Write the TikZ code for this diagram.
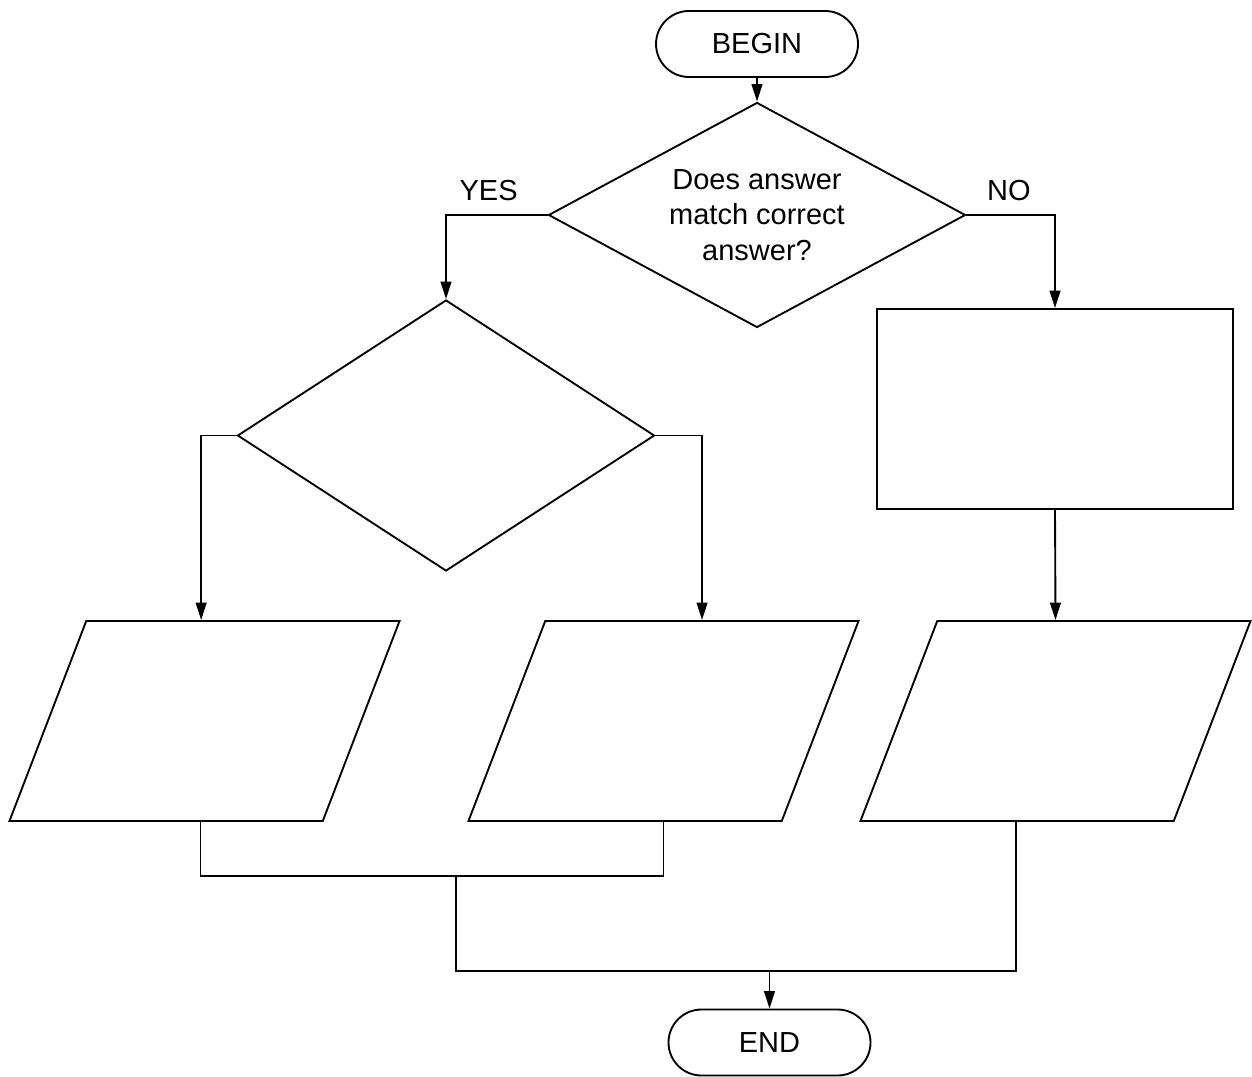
\documentclass[tikz,border=0pt]{standalone}
\usepackage{fontspec}
\setmainfont{Liberation Sans}
\usepackage{tikz}
\usetikzlibrary{shapes.geometric,shapes.misc,arrows.meta}

\tikzset{
  flowline/.style={line width=1.4pt},
  flowarrow/.style={flowline, -{Triangle[length=13pt,width=8pt]}},
  terminal/.style={draw, flowline, rounded rectangle, minimum width=153pt, minimum height=49.5pt, inner sep=0.75pt},
  decision/.style={draw, flowline, diamond, aspect=1.85, inner sep=0pt, minimum width=312.75pt},
  process/.style={draw, flowline, rectangle, minimum width=267pt, minimum height=150pt},
  inout/.style={draw, flowline, trapezium, trapezium left angle=69, trapezium right angle=111, inner xsep=88.7pt, inner ysep=75pt},
  branchlabel/.style={inner sep=0.75pt}
}

\begin{document}
\begin{tikzpicture}[x=0.75pt,y=0.75pt,yscale=-1,xscale=1,font=\fontsize{21.75}{26.6}\selectfont]
\useasboundingbox (0,0) rectangle (1252,1077);

%Shape: Terminals
\node (begin) [terminal] at (757,44) {BEGIN};
\node (end) [terminal] at (769.5,1042.5) {END};
%Shape: Diamonds
\node (q1) [decision, minimum height=168.75pt, align=center] at (757,215) {Does answer\\match correct\\answer?};
\node (q2) [decision, minimum height=203.25pt] at (446,435.5) {};
%Shape: Rectangle
\node (act) [process] at (1055,409) {};
%Shape: Parallelograms
\node (p1) [inout] at (204.5,721) {};
\node (p2) [inout] at (663.5,721) {};
\node (p3) [inout] at (1055.5,721) {};
%Joins
\coordinate (j1) at (456,876);
\coordinate (j2) at (769.5,971);

%Straight Lines
\draw [flowarrow] (begin) -- (q1);
\draw [flowarrow] (q1.west) -| node [pos=0.29, above=9pt, branchlabel] (yes) {YES} (q2.north);
\draw [flowarrow] (q1.east) -| node [pos=0.24, above=9pt, branchlabel] (no) {NO} (act.north);
\draw [flowarrow] (q2.west) -| ([xshift=-2.5pt]p1.north);
\draw [flowarrow] (q2.east) -| ([xshift=28.9pt]p2.north);
\draw [flowarrow] (act.south) -- (p3.north);
\draw [flowline] ([xshift=-3pt]p1.south) |- (j1) -| (p2.south);
\draw [flowline] (j1) |- (j2) -| ([xshift=-29.6pt]p3.south);
\draw [flowarrow] (j2) -- (end.north);
\end{tikzpicture}
\end{document}
